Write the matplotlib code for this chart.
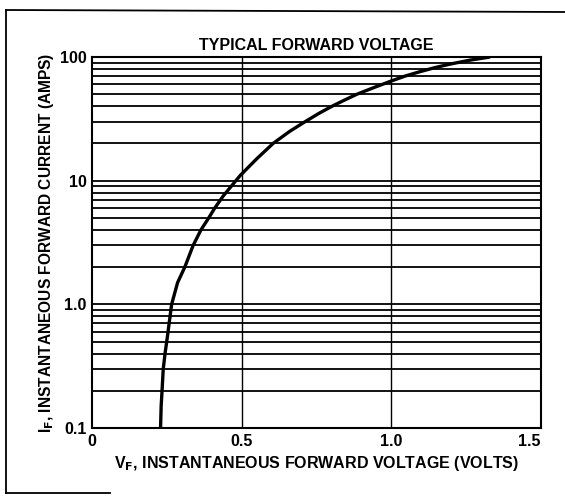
import matplotlib.pyplot as plt
from matplotlib.lines import Line2D

plt.rcParams['font.family'] = ['Liberation Sans', 'DejaVu Sans']
plt.rcParams['font.weight'] = 'bold'

# Typical forward voltage curve
vf = [0.229, 0.231, 0.234, 0.238, 0.244, 0.252, 0.266, 0.286, 0.310, 0.338, 0.364, 0.390, 0.410,
      0.438, 0.465, 0.495, 0.550, 0.605, 0.660, 0.712, 0.758, 0.802, 0.845, 0.885,
      0.945, 1.000, 1.045, 1.095, 1.145, 1.200, 1.265, 1.330]
i_f = [0.1, 0.15, 0.2, 0.3, 0.4, 0.55, 1.0, 1.5, 2.0, 3.0, 4.0, 5.0, 6.0,
       7.5, 9.0, 11.0, 15.0, 20.0, 25.0, 30.0, 35.0, 40.0, 45.0, 50.0,
       57.0, 64.0, 70.0, 76.0, 82.0, 88.0, 94.5, 100.0]

x_ticks = [0, 0.5, 1.0, 1.5]
x_labels = ['0', '0.5', '1.0', '1.5']
y_ticks = [0.1, 1.0, 10, 100]
y_labels = ['0.1', '1.0', '10', '100']
h_grid = [m * d for d in [0.1, 1, 10] for m in range(1, 10)] + [100]
v_grid = [0.5, 1.0]

fig = plt.figure(figsize=(5.65, 4.96), dpi=100)
ax = fig.add_axes([92 / 565, 1 - 428 / 496, 449 / 565, 371 / 496])
ax.set_yscale('log')
ax.set_xlim(0, 1.5)
ax.set_ylim(0.1, 100)

for y in h_grid:
    ax.axhline(y, color='black', lw=1.3, zorder=1)
for x in v_grid:
    ax.axvline(x, color='black', lw=1.0, zorder=1)

ax.plot(vf, i_f, color='black', lw=2.4, zorder=3, solid_capstyle='butt',
        solid_joinstyle='round')

ax.set_xticks(x_ticks)
ax.set_xticklabels(x_labels)
ax.set_yticks(y_ticks)
ax.set_yticklabels(y_labels)
ax.minorticks_off()
ax.tick_params(length=0, labelsize=11.5, pad=4)
ax.xaxis.get_majorticklabels()[-1].set_horizontalalignment('right')
for s in ax.spines.values():
    s.set_linewidth(1.5)

ax.set_title('TYPICAL FORWARD VOLTAGE', fontsize=11.5, fontweight='bold', pad=5)
ax.set_xlabel('V$_\\mathbf{F}$, INSTANTANEOUS FORWARD VOLTAGE (VOLTS)',
              fontsize=11.5, fontweight='bold', labelpad=4)
ax.set_ylabel('I$_\\mathbf{F}$, INSTANTANEOUS FORWARD CURRENT (AMPS)',
              fontsize=11.2, fontweight='bold', labelpad=3)

# outer frame of the scanned page
fig.add_artist(Line2D([6 / 565, 1.0], [1 - 10 / 496, 1 - 12 / 496], color='black', lw=1.3))
fig.add_artist(Line2D([6 / 565, 6 / 565], [1 - 10 / 496, 1 - 493 / 496], color='black', lw=1.3))
fig.add_artist(Line2D([6 / 565, 110 / 565], [1 - 493 / 496, 1 - 493 / 496], color='black', lw=1.3))

fig.savefig('out.png', dpi=100)
